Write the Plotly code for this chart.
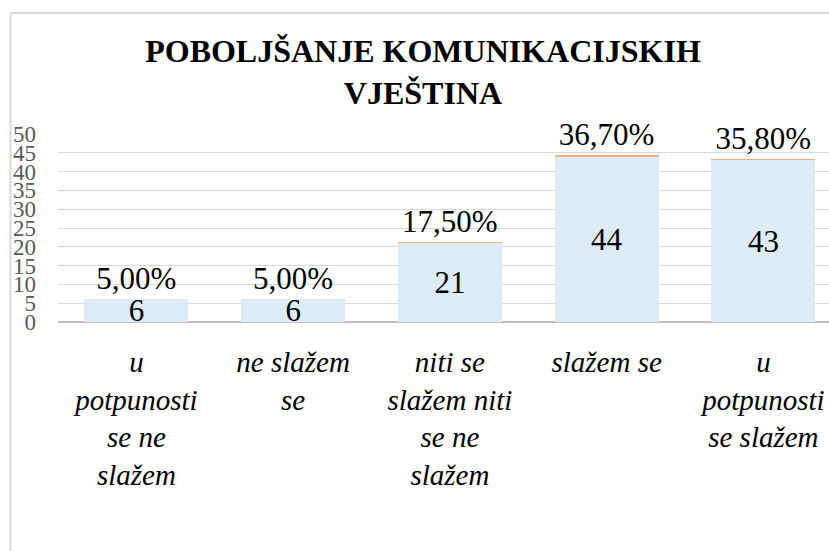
import plotly.graph_objects as go

categories = [
    "u<br>potpunosti<br>se ne<br>slažem",
    "ne slažem<br>se",
    "niti se<br>slažem niti<br>se ne<br>slažem",
    "slažem se",
    "u<br>potpunosti<br>se slažem",
]
counts = [6, 6, 21, 44, 43]
shares = [0.05, 0.05, 0.175, 0.367, 0.358]
y_ticks = [0, 5, 10, 15, 20, 25, 30, 35, 40, 45, 50]

share_labels = [f"{v*100:.2f}%".replace(".", ",") for v in shares]
SERIF = "Liberation Serif"
W, H = 829, 551
L, R, T, B = 58, 0, 134, 229

fig = go.Figure()
fig.add_trace(go.Bar(
    x=categories, y=counts, name="broj",
    marker=dict(color="#DDEBF7", line=dict(width=0)),
    text=[str(c) for c in counts], textposition="inside",
    insidetextanchor="middle", constraintext="none", textangle=0,
    textfont=dict(family=SERIF, size=31, color="black"),
    hoverinfo="skip",
))
fig.add_trace(go.Bar(
    x=categories, y=shares, name="postotak",
    marker=dict(color="#F4B183", line=dict(width=0)),
    text=share_labels, textposition="outside", constraintext="none",
    textangle=0,
    textfont=dict(family=SERIF, size=31, color="black"),
    cliponaxis=False, hoverinfo="skip",
))

pw = W - L - R
ph = H - T - B
def px_x(p):
    return (p - L) / pw
def px_y(p):
    return 1 - (p - T) / ph

fig.update_layout(
    width=W, height=H,
    margin=dict(l=L, r=R, t=T, b=B, autoexpand=False),
    barmode="stack", bargap=0.336,
    showlegend=False,
    hovermode=False,
    paper_bgcolor="white", plot_bgcolor="white",
    font=dict(family=SERIF),
    title=dict(
        text="<b>POBOLJŠANJE KOMUNIKACIJSKIH<br>VJEŠTINA</b>",
        font=dict(family=SERIF, size=32, color="black"),
        x=423 / W, xanchor="center", xref="container",
        y=1 - 62 / H, yanchor="top", yref="container",
        automargin=False,
    ),
    xaxis=dict(
        range=[-0.5, -0.5 + pw / 156.75],
        tickfont=dict(family=SERIF, size=29, color="black", style="italic"),
        showgrid=False, ticks="", showline=False,
        ticklabelstandoff=20, automargin=False,
    ),
    yaxis=dict(
        range=[0, 50], tickvals=y_ticks,
        tickfont=dict(family=SERIF, size=23, color="#595959"),
        showgrid=True, gridcolor="#D9D9D9", gridwidth=1,
        zeroline=True, zerolinecolor="#BFBFBF", zerolinewidth=2,
        ticks="", showline=False, ticklabelstandoff=21, automargin=False,
    ),
    shapes=[
        dict(type="line", xref="paper", yref="paper",
             x0=px_x(10.5), x1=px_x(10.5), y0=px_y(13), y1=px_y(560),
             line=dict(color="#D9D9D9", width=2)),
        dict(type="line", xref="paper", yref="paper",
             x0=px_x(10.5), x1=px_x(840), y0=px_y(13), y1=px_y(13),
             line=dict(color="#D9D9D9", width=2)),
    ],
)

fig.write_html(
    "out.html",
    config={"displayModeBar": False, "staticPlot": True},
    post_script="document.body.style.margin='0';document.body.style.padding='0';",
)
